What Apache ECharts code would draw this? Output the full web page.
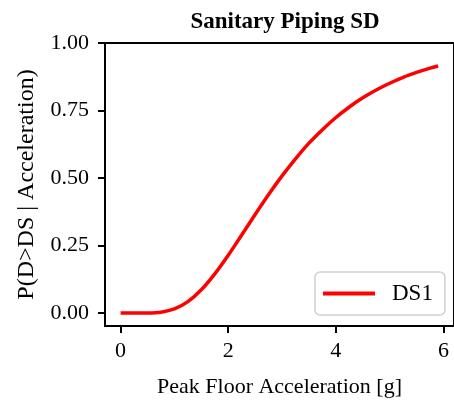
<!DOCTYPE html>
<html><head><meta charset="utf-8">
<script src="https://cdn.jsdelivr.net/npm/echarts@6/dist/echarts.min.js"></script>
<style>html,body{margin:0;padding:0;background:#fff}#c{width:454px;height:403px}</style>
</head><body><div id="c"></div>
<script>
const titleText = "Sanitary Piping SD";
const xName = "Peak Floor Acceleration [g]";
const yName = "P(D>DS | Acceleration)";
const seriesName = "DS1";
const accel = [0, 0.25, 0.5, 0.75, 1.0, 1.25, 1.5, 1.75, 2.0, 2.25, 2.5, 2.75, 3.0, 3.25, 3.5, 3.75, 4.0, 4.25, 4.5, 4.75, 5.0, 5.25, 5.5, 5.75, 5.9];
const prob = [0, 0, 0.0002, 0.003, 0.015, 0.042, 0.086, 0.145, 0.214, 0.289, 0.365, 0.439, 0.508, 0.571, 0.629, 0.679, 0.724, 0.763, 0.797, 0.826, 0.851, 0.873, 0.891, 0.907, 0.915];
const xTicks = [0, 2, 4, 6];
const yTicks = [0, 0.25, 0.5, 0.75, 1.0];

const font = "Liberation Serif";
const chart = echarts.init(document.getElementById('c'), null, {renderer: 'canvas'});
chart.setOption({
  animation: false,
  backgroundColor: '#fff',
  title: {
    text: titleText, left: 280, top: 6, textAlign: 'center',
    textStyle: {fontFamily: font, fontWeight: 'bold', fontSize: 23, color: '#000'}
  },
  grid: {left: 105, top: 43, width: 350, height: 284, show: true, borderColor: '#000', borderWidth: 2, backgroundColor: 'transparent'},
  legend: {
    data: [{name: seriesName, icon: 'rect'}], left: 315, top: 272, orient: 'vertical',
    backgroundColor: '#fff', borderColor: '#d0d0d0', borderWidth: 1.5, borderRadius: 5,
    padding: [10, 12, 10, 8], itemWidth: 52, itemHeight: 4, itemGap: 8,
    textStyle: {fontFamily: font, fontSize: 23, color: '#000', padding: [0, 0, 0, 12]}
  },
  xAxis: {
    type: 'value', min: -0.29, max: 6.195,
    name: xName, nameLocation: 'middle', nameGap: 50,
    nameTextStyle: {fontFamily: font, fontSize: 22, color: '#000'},
    axisLine: {show: true, onZero: false, lineStyle: {color: '#000', width: 2}},
    axisTick: {show: true, inside: false, length: 7, lineStyle: {color: '#000', width: 2}, customValues: xTicks},
    axisLabel: {fontFamily: font, fontSize: 22, color: '#000', margin: 14, customValues: xTicks, formatter: v => String(v)},
    splitLine: {show: false}
  },
  yAxis: {
    type: 'value', min: -0.048, max: 1.0,
    name: yName, nameLocation: 'middle', nameGap: 66, nameRotate: 90,
    nameTextStyle: {fontFamily: font, fontSize: 24, color: '#000'},
    axisLine: {show: true, onZero: false, lineStyle: {color: '#000', width: 2}},
    axisTick: {show: true, inside: false, length: 7, lineStyle: {color: '#000', width: 2}, customValues: yTicks},
    axisLabel: {fontFamily: font, fontSize: 22, color: '#000', margin: 16, customValues: yTicks, formatter: v => v.toFixed(2)},
    splitLine: {show: false}
  },
  series: [{
    name: seriesName, type: 'line', smooth: 0.3, symbol: 'none',
    data: accel.map((x, i) => [x, prob[i]]),
    lineStyle: {color: '#ff0000', width: 3.5}, itemStyle: {color: '#ff0000'}
  }]
});
</script></body></html>
